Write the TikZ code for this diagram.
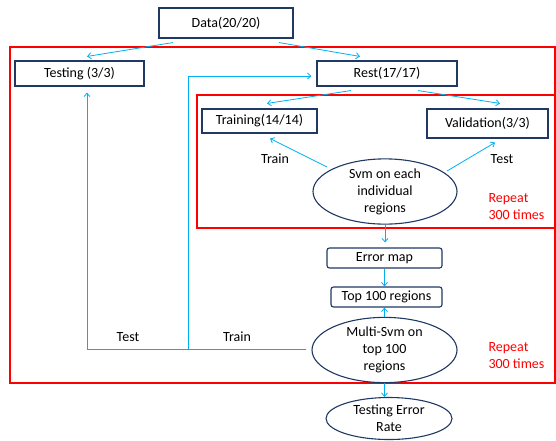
\documentclass[tikz,border=0pt]{standalone}
\usepackage{fontspec}
\setmainfont{Carlito}
\usetikzlibrary{arrows.meta,shapes.geometric,calc}
\definecolor{navy}{HTML}{1F3864}
\definecolor{lblue}{HTML}{00B0F0}
\begin{document}
\begin{tikzpicture}[x=1pt,y=-1pt,
  every node/.style={font=\fontsize{14}{17}\selectfont},
  box/.style={draw=navy,line width=1.1pt,inner sep=0pt,minimum width=#1,align=center},
  rbox/.style={box=#1,rounded corners=2.5pt},
  ell/.style={draw=navy,line width=1.1pt,ellipse,inner sep=0pt,align=center},
  arr/.style={draw=lblue,line width=0.8pt,-{Straight Barb[length=3.5pt,width=6pt]}},
  conn/.style={draw=lblue,line width=0.8pt},
  redbox/.style={draw=red,line width=1.4pt},
  lab/.style={text=black},
  rep/.style={text=red,align=left,anchor=west}]
\useasboundingbox (0,0) rectangle (556,440);
% red frames
\draw[redbox] (10,47) rectangle (555,383);
\draw[redbox] (197,95) rectangle (555,228);
% nodes
\node[box=134pt,minimum height=30pt] (data) at (226,23) {Data(20/20)};
\node[box=129pt,minimum height=25pt] (testing) at (79.5,73.5) {Testing (3/3)};
\node[box=140pt,minimum height=25pt] (rest) at (387,73.5) {Rest(17/17)};
\node[box=115pt,minimum height=24pt] (training) at (259.5,121) {Training(14/14)};
\node[box=121pt,minimum height=29pt] (valid) at (487.5,123.5) {Validation(3/3)};
\node[ell,minimum width=144pt,minimum height=51pt] (svm) at (385,191.5) {Svm on each\\individual\\regions};
\node[rbox=115pt,minimum height=20pt] (errmap) at (384.5,258) {Error map};
\node[rbox=111pt,minimum height=20pt] (top) at (386.5,297) {Top 100 regions};
\node[ell,minimum width=145pt,minimum height=56pt] (multi) at (384.5,350) {Multi-Svm on\\top 100\\regions};
\node[ell,minimum width=126pt,minimum height=42pt] (ter) at (389,418.5) {Testing Error\\Rate};
% labels
\node[lab] (l1) at (275,159) {Train};
\node[lab] (l2) at (502,159) {Test};
\node[lab] (l3) at (128,337) {Test};
\node[lab] (l4) at (237,337) {Train};
\node[rep] (r1) at (485,206.5) {Repeat\\300 times};
\node[rep] (r2) at (485,356) {Repeat\\300 times};
% connectors
\draw[arr] ([shift={(-53,4)}]data.south) -- ([shift={(7.5,-4)}]testing.north);
\draw[arr] ([shift={(53,4)}]data.south) -- ([shift={(-27,-4)}]rest.north);
\draw[arr] ([shift={(-36,4)}]rest.south) -- ([shift={(7.5,-5)}]training.north);
\draw[arr] ([shift={(31,4)}]rest.south) -- ([shift={(12.5,-5)}]valid.north);
\draw[arr] ([shift={(-58,-24.5)}]svm.center) -- ([shift={(10.5,5)}]training.south);
\draw[arr] ([shift={(62,-20.5)}]svm.center) -- ([shift={(7.5,4)}]valid.south);
\draw[arr,shorten >=5pt] (svm.south) -- (svm.south |- errmap.north);
\draw[arr] (errmap.south) -- (errmap.south |- top.north);
\draw[arr] (multi.north) -- (multi.north |- top.south);
\draw[arr] (multi.south) -- (multi.south |- ter.north);
\coordinate (br) at (188,349);
\draw[arr] ([shift={(-5,-1)}]multi.west) -| ([shift={(7.5,6)}]testing.south);
\draw[arr] (br) |- ([shift={(-5,2.5)}]rest.west);
\end{tikzpicture}
\end{document}
